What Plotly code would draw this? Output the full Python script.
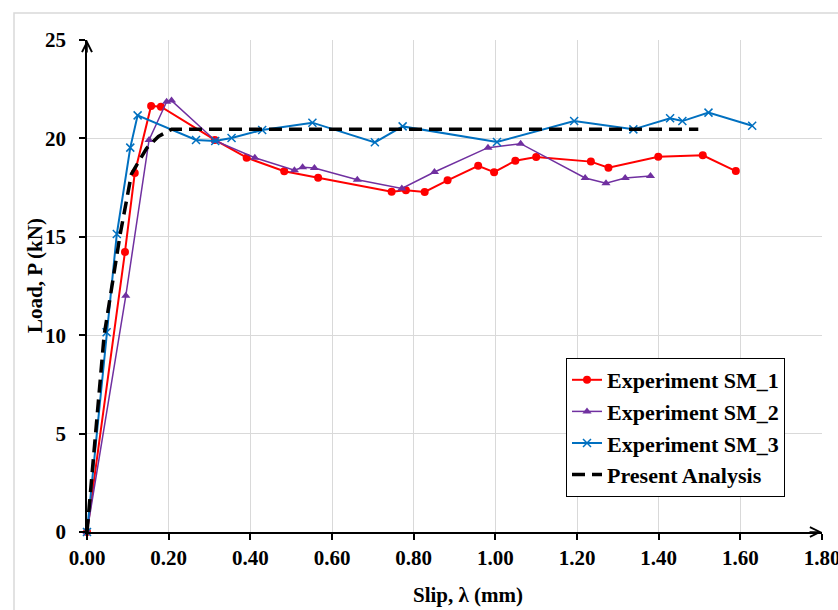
import plotly.graph_objects as go

# ---- data ----
sm1_x = [0.0, 0.093, 0.117, 0.157, 0.181, 0.313, 0.391, 0.483, 0.566, 0.746, 0.781, 0.827, 0.883,
         0.958, 0.997, 1.049, 1.100, 1.234, 1.277, 1.399, 1.508, 1.589]
sm1_y = [0.0, 14.23, 18.24, 21.65, 21.61, 19.92, 19.02, 18.33, 18.0, 17.29, 17.36, 17.28, 17.87,
         18.61, 18.28, 18.87, 19.05, 18.82, 18.51, 19.07, 19.14, 18.34]

sm2_x = [0.0, 0.095, 0.152, 0.195, 0.207, 0.315, 0.411, 0.508, 0.528, 0.557, 0.662, 0.771, 0.851,
         0.982, 1.062, 1.220, 1.271, 1.318, 1.380]
sm2_y = [0.0, 12.0, 19.92, 21.86, 21.92, 19.87, 19.02, 18.38, 18.53, 18.5, 17.9, 17.46, 18.29,
         19.53, 19.73, 17.99, 17.72, 17.99, 18.09]

sm3_x = [0.0, 0.048, 0.073, 0.106, 0.124, 0.267, 0.314, 0.354, 0.429, 0.552, 0.705, 0.773, 1.004,
         1.193, 1.338, 1.428, 1.458, 1.522, 1.629]
sm3_y = [0.0, 10.15, 15.14, 19.53, 21.17, 19.92, 19.87, 20.02, 20.43, 20.8, 19.8, 20.61, 19.82,
         20.88, 20.46, 21.02, 20.88, 21.31, 20.64]

pa_x = [0.0, 0.042, 0.081, 0.109, 0.146, 0.175, 0.207, 1.497]
pa_y = [0.0, 10.0, 15.1, 18.2, 19.5, 20.1, 20.46, 20.46]

x_ticks = [0.0, 0.2, 0.4, 0.6, 0.8, 1.0, 1.2, 1.4, 1.6, 1.8]
y_ticks = [0, 5, 10, 15, 20, 25]

FONT = "Liberation Serif"

fig = go.Figure()
fig.add_trace(go.Scatter(x=sm1_x, y=sm1_y, mode="lines+markers", name="Experiment SM_1",
                         line=dict(color="#FF0000", width=2),
                         marker=dict(symbol="circle", size=8, color="#FF0000"),
                         cliponaxis=False))
fig.add_trace(go.Scatter(x=sm2_x, y=sm2_y, mode="lines+markers", name="Experiment SM_2",
                         line=dict(color="#7030A0", width=1.5),
                         marker=dict(symbol="triangle-up", size=8, color="#7030A0"),
                         cliponaxis=False))
fig.add_trace(go.Scatter(x=sm3_x, y=sm3_y, mode="lines+markers", name="Experiment SM_3",
                         line=dict(color="#0070C0", width=2),
                         marker=dict(symbol="x-thin", size=8, line=dict(color="#0070C0", width=1.5)),
                         cliponaxis=False))
fig.add_trace(go.Scatter(x=pa_x, y=pa_y, mode="lines", name="Present Analysis",
                         line=dict(color="black", width=3.5, dash="13px,7px"),
                         cliponaxis=False))

fig.update_layout(
    width=838, height=610,
    margin=dict(l=87, r=16, t=40, b=78, autoexpand=False),
    paper_bgcolor="white", plot_bgcolor="white",
    font=dict(family=FONT, size=21, color="black", weight="bold"),
    showlegend=True,
    legend=dict(x=(785 - 87) / 735, xanchor="right", y=(532 - 358) / 492, yanchor="top",
                bgcolor="white", bordercolor="black", borderwidth=1,
                font=dict(family=FONT, size=22, color="black", weight="bold"),
                itemwidth=30, tracegroupgap=0),
    xaxis=dict(range=[0, 1.8], tickvals=x_ticks, tickformat=".2f", automargin=False,
               ticklabeloverflow="allow",
               showgrid=True, gridcolor="#d9d9d9", gridwidth=1,
               showline=True, linecolor="black", linewidth=1.5,
               ticks="outside", ticklen=6, tickcolor="black", tickwidth=1.5,
               zeroline=False, tickfont=dict(family=FONT, size=21, weight="bold")),
    yaxis=dict(range=[0, 25], tickvals=y_ticks, automargin=False,
               ticklabeloverflow="allow", ticklabelstandoff=9,
               showgrid=True, gridcolor="#d9d9d9", gridwidth=1,
               showline=True, linecolor="black", linewidth=1.5,
               ticks="outside", ticklen=6, tickcolor="black", tickwidth=1.5,
               zeroline=False, tickfont=dict(family=FONT, size=21, weight="bold")),
)

# outer chart frame
fig.add_shape(type="rect", xref="paper", yref="paper",
              x0=(14 - 87) / 735, x1=1.1, y0=-0.3, y1=(532 - 13) / 492,
              line=dict(color="#d9d9d9", width=1.5), layer="below")

# axis titles
fig.add_annotation(text="Slip, λ (mm)", xref="paper", yref="paper",
                   x=(468 - 87) / 735, y=(532 - 595) / 492, showarrow=False,
                   xanchor="center", yanchor="middle",
                   font=dict(family=FONT, size=21, weight="bold"))
fig.add_annotation(text="Load, P (kN)", xref="paper", yref="paper",
                   x=(35 - 87) / 735, y=(532 - 275) / 492, showarrow=False, textangle=-90,
                   xanchor="center", yanchor="middle",
                   font=dict(family=FONT, size=21, weight="bold"))

# axis arrows
fig.add_annotation(x=0, y=25, xref="x", yref="y", ax=0, ay=14, text="", showarrow=True,
                   arrowhead=5, arrowsize=1.3, arrowwidth=1.5, arrowcolor="black")
fig.add_annotation(x=1.8, y=0, xref="x", yref="y", ax=-14, ay=0, text="", showarrow=True,
                   arrowhead=5, arrowsize=1.3, arrowwidth=1.5, arrowcolor="black")

fig.write_html("out.html", config={"displayModeBar": False},
               post_script="document.body.style.margin='0';document.body.style.overflow='hidden';")
